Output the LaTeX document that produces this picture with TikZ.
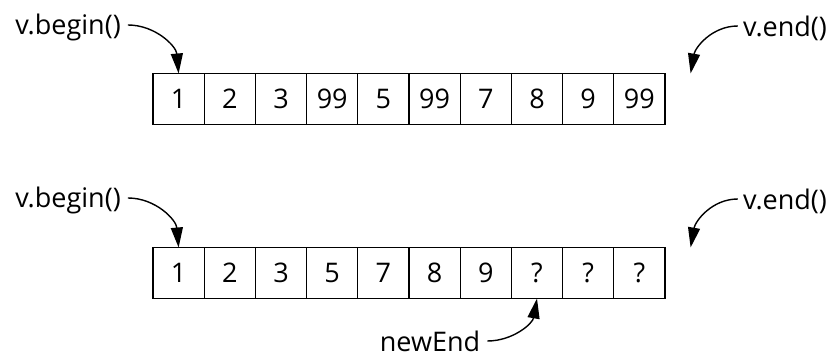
\documentclass[tikz,border=0pt]{standalone}
\usepackage{fontspec}
\setmainfont{Open Sans}
\usetikzlibrary{arrows.meta}
\begin{document}
\begin{tikzpicture}[x=1pt,y=1pt,
  cell/.style={draw, line width=1.1pt, minimum width=51.2pt, minimum height=51pt,
    inner sep=0pt, outer sep=0pt, font=\fontsize{27}{27}\selectfont},
  lbl/.style={inner sep=0pt, font=\fontsize{27}{27}\selectfont},
  ptr/.style={line width=1.4pt, -{Triangle[length=20pt,width=12pt]}}
]
\useasboundingbox (0,0) rectangle (835,358);
\foreach \v [count=\i] in {1,2,3,99,5,99,7,8,9,99}
  \node[cell] (t\i) at ({178.6+(\i-1)*51.2},259) {\v};
\foreach \v [count=\i] in {1,2,3,5,7,8,9,?,?,?}
  \node[cell] (b\i) at ({178.6+(\i-1)*51.2},85) {\v};
\coordinate (endT) at ([xshift=51.2pt]t10.north);
\coordinate (endB) at ([xshift=51.2pt]b10.north);

\node[lbl] (tb) at (68,331) {v.begin()};
\node[lbl] (te) at (785,330) {v.end()};
\node[lbl] (bb) at (68,158) {v.begin()};
\node[lbl] (be) at (785,157) {v.end()};
\node[lbl] (ne) at (430,17) {newEnd};

\draw[ptr] ([xshift=7pt,yshift=2pt]tb.east) to[out=0,in=95] (t1.north);
\draw[ptr] ([xshift=-5pt,yshift=2pt]te.west) to[out=180,in=80] (endT);
\draw[ptr] ([xshift=7pt,yshift=2pt]bb.east) to[out=0,in=95] (b1.north);
\draw[ptr] ([xshift=-5pt,yshift=2pt]be.west) to[out=180,in=80] (endB);
\draw[ptr] ([xshift=7pt,yshift=0pt]ne.east) to[out=0,in=-100] (b8.south);
\end{tikzpicture}
\end{document}
